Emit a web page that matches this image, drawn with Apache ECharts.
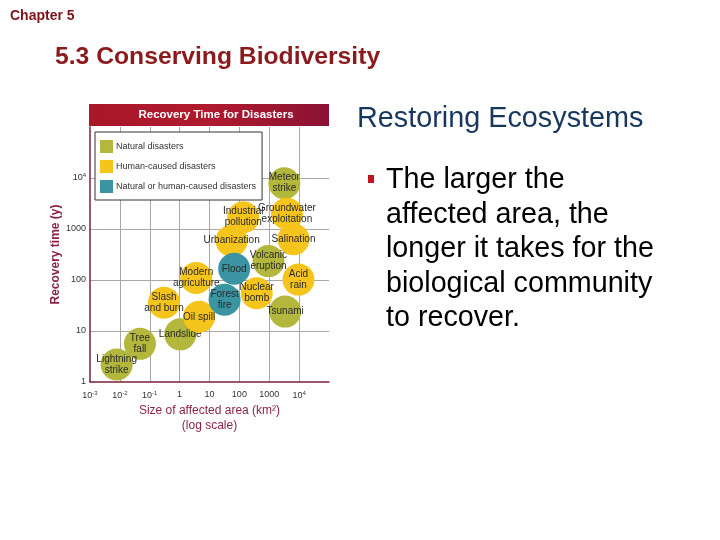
<!DOCTYPE html>
<html>
<head>
<meta charset="utf-8">
<script src="https://cdn.jsdelivr.net/npm/echarts@6/dist/echarts.min.js"></script>
<style>
html,body{margin:0;padding:0;background:#fff;}
#main{width:720px;height:540px;}
</style>
</head>
<body>
<div id="main"></div>
<script>
// ---- Data ----
const seriesNames = ['Natural disasters', 'Human-caused disasters', 'Natural or human-caused disasters'];

const naturalNames = ['Lightning\nstrike', 'Tree\nfall', 'Landslide', 'Tsunami', 'Volcanic\neruption', 'Meteor\nstrike'];
const naturalArea  = [0.0078, 0.047, 1.05, 3400, 940, 3200];      // km²
const naturalTime  = [2.2, 5.6, 8.6, 24, 235, 7900];              // years

const humanNames = ['Slash\nand burn', 'Oil spill', 'Modern\nagriculture', 'Urbanization', 'Industrial\npollution',
                    'Nuclear\nbomb', 'Acid\nrain', 'Salination', 'Groundwater\nexploitation'];
const humanArea  = [0.3, 4.5, 3.6, 55, 135, 380, 9500, 6500, 3900];
const humanTime  = [36, 19, 110, 590, 1700, 55, 102, 630, 2000];

const mixedNames = ['Forest\nfire', 'Flood'];
const mixedArea  = [32, 67];
const mixedTime  = [41, 166];

const xTickLabels = {'-3': '10{s|-3}', '-2': '10{s|-2}', '-1': '10{s|-1}', '0': '1', '1': '10', '2': '100', '3': '1000', '4': '10{s|4}'};
const yTickLabels = {'0': '1', '1': '10', '2': '100', '3': '1000', '4': '10{s|4}'};

const chartTitle = 'Recovery Time for Disasters';
const xAxisName = 'Size of affected area (km²)\n(log scale)';
const yAxisName = 'Recovery time (y)';

// ---- Build ----
const colors = ['#b3b73b', '#f6c51b', '#3a94a1'];
const labelOffsets = {'Groundwater\nexploitation': [6, 0], 'Oil spill': [4, 0]};

function pts(names, xs, ys) {
  return names.map((n, i) => ({
    name: n,
    value: [xs[i], ys[i]],
    label: labelOffsets[n] ? {offset: labelOffsets[n]} : undefined
  }));
}
const groups = [
  pts(naturalNames, naturalArea, naturalTime),
  pts(humanNames, humanArea, humanTime),
  pts(mixedNames, mixedArea, mixedTime)
];

function expLabel(map) {
  return function (v) {
    const e = Math.round(Math.log10(v));
    const s = map[String(e)];
    return s === undefined ? '' : s;
  };
}

const axisLabelRich = {s: {fontSize: 6, padding: [0, 0, 5, 0], color: '#333', fontFamily: 'Liberation Sans'}};

const option = {
  animation: false,
  backgroundColor: '#ffffff',
  grid: {left: 90, top: 127, width: 239, height: 255, containLabel: false},
  legend: {
    data: seriesNames,
    orient: 'vertical',
    left: 95, top: 132,
    padding: [8, 6, 7, 5],
    itemGap: 7,
    itemWidth: 13, itemHeight: 13,
    icon: 'rect',
    backgroundColor: '#ffffff',
    borderColor: '#333333',
    borderWidth: 1,
    borderRadius: 0,
    textStyle: {fontSize: 9, color: '#333', fontFamily: 'Liberation Sans', padding: [0, 0, 0, -2]}
  },
  xAxis: {
    type: 'log', logBase: 10, min: 0.001, max: 100000, splitNumber: 8,
    name: xAxisName, nameLocation: 'middle', nameGap: 21,
    nameTextStyle: {color: '#8b2346', fontSize: 12, lineHeight: 15, fontFamily: 'Liberation Sans'},
    axisLine: {show: true, lineStyle: {color: '#7d1f3a', width: 1.5}},
    axisTick: {show: false},
    axisLabel: {margin: 8, fontSize: 9, color: '#333', fontFamily: 'Liberation Sans', formatter: expLabel(xTickLabels), rich: axisLabelRich, showMaxLabel: true},
    splitLine: {show: true, showMinLine: false, showMaxLine: false, lineStyle: {color: '#a8a8a8', width: 1}}
  },
  yAxis: {
    type: 'log', logBase: 10, min: 1, max: 100000, splitNumber: 5,
    name: yAxisName, nameLocation: 'middle', nameGap: 28,
    nameTextStyle: {color: '#8b2346', fontSize: 12, fontWeight: 'bold', fontFamily: 'Liberation Sans'},
    axisLine: {show: true, lineStyle: {color: '#7d1f3a', width: 1.5}},
    axisTick: {show: false},
    axisLabel: {margin: 4, fontSize: 9, color: '#333', fontFamily: 'Liberation Sans', formatter: expLabel(yTickLabels), rich: axisLabelRich},
    splitLine: {show: true, showMinLine: false, showMaxLine: false, lineStyle: {color: '#a8a8a8', width: 1}}
  },
  series: groups.map((g, i) => ({
    name: seriesNames[i],
    type: 'scatter',
    data: g,
    symbol: 'circle',
    symbolSize: 32,
    itemStyle: {color: colors[i], opacity: 1},
    label: {
      show: true, position: 'inside', formatter: '{b}',
      color: '#2a2a2a', fontSize: 10, lineHeight: 11, fontFamily: 'Liberation Sans'
    },
    labelLayout: {hideOverlap: false},
    emphasis: {disabled: true},
    z: 2 + i
  })),
  graphic: [
    // slide header texts
    {type: 'text', left: 10, top: 9, style: {text: 'Chapter 5', fill: '#7e1219', font: 'bold 14px "Liberation Sans", Arial, sans-serif'}},
    {type: 'text', left: 55, top: 45, style: {text: '5.3 Conserving Biodiversity', fill: '#8a1a1c', font: 'bold 24.7px "Liberation Sans", Arial, sans-serif'}},
    {type: 'text', left: 357, top: 105, style: {text: 'Restoring Ecosystems', fill: '#17375e', font: '28.8px "Liberation Sans", Arial, sans-serif'}},
    {type: 'rect', shape: {x: 368, y: 175, width: 6, height: 8}, style: {fill: '#c0141e'}},
    {type: 'text', left: 386, top: 163, style: {
      text: 'The larger the\naffected area, the\nlonger it takes for the\nbiological community\nto recover.',
      fill: '#000', font: '28.7px "Liberation Sans", Arial, sans-serif', lineHeight: 34.5}},
    // chart title banner
    {type: 'rect', shape: {x: 89, y: 104, width: 240, height: 22},
      style: {fill: new echarts.graphic.LinearGradient(0, 0, 1, 0, [
        {offset: 0, color: '#a8162a'}, {offset: 0.5, color: '#b01a2e'}, {offset: 1, color: '#8a1232'}])}, z: 10},
    {type: 'text', x: 216, y: 115, z: 11, style: {text: chartTitle, fill: '#ffffff', align: 'center', verticalAlign: 'middle',
      font: 'bold 11.5px "Liberation Sans", Arial, sans-serif'}}
  ]
};

const chart = echarts.init(document.getElementById('main'), null, {renderer: 'canvas'});
chart.setOption(option);
</script>
</body>
</html>
